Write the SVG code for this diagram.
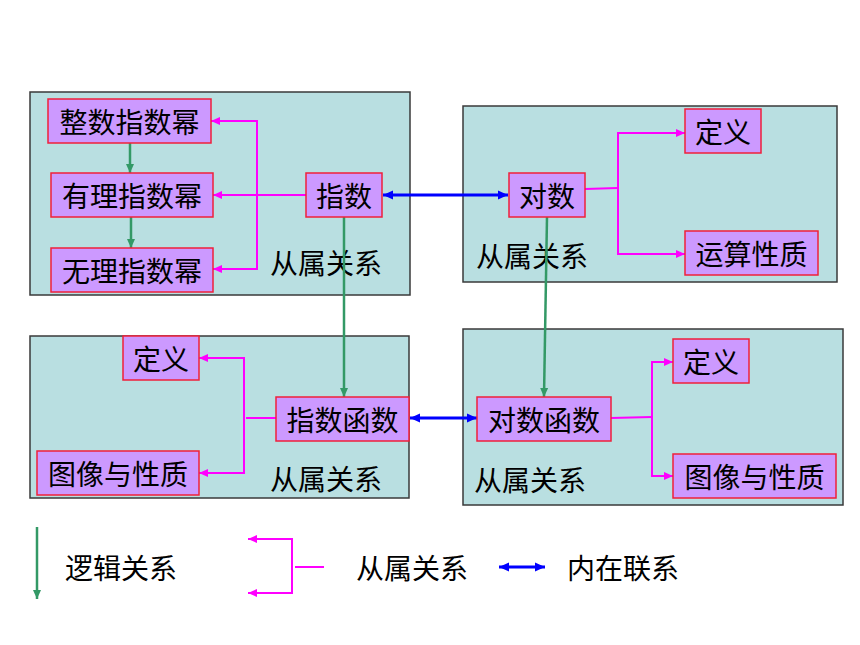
<svg xmlns="http://www.w3.org/2000/svg" width="860" height="645" viewBox="0 0 860 645">
<style>
.panel{fill:#B9DFE1;stroke:#3A3A3A;stroke-width:1.5}
.node{fill:#CC99FF;stroke:#F0203A;stroke-width:1.5}
text{font-family:"Noto Sans CJK SC","Noto Sans",sans-serif;font-size:28px;fill:#000;dominant-baseline:central}
.c{text-anchor:middle}
.pink{fill:none;stroke:#FF00FF;stroke-width:2}
.green{fill:none;stroke:#339966;stroke-width:2.5}
.blue{fill:none;stroke:#0000FF;stroke-width:3}
</style>
<defs>
<marker id="ap" markerUnits="userSpaceOnUse" markerWidth="10" markerHeight="10" refX="9" refY="5" orient="auto-start-reverse"><path d="M0,1 L9,5 L0,9 Z" fill="#FF00FF"/></marker>
<marker id="ag" markerUnits="userSpaceOnUse" markerWidth="10" markerHeight="10" refX="9" refY="5" orient="auto"><path d="M0,1 L9,5 L0,9 Z" fill="#339966"/></marker>
<marker id="ab" markerUnits="userSpaceOnUse" markerWidth="12" markerHeight="12" refX="10" refY="6" orient="auto-start-reverse"><path d="M0,1.5 L10,6 L0,10.5 Z" fill="#0000FF"/></marker>
</defs>
<g id="panels">
<rect class="panel" x="30" y="92" width="380" height="203"/>
<rect class="panel" x="463" y="106" width="374" height="176"/>
<rect class="panel" x="30" y="336" width="379" height="162"/>
<rect class="panel" x="463" y="329" width="380" height="176"/>
</g>
<g id="labels">
<text class="c" x="326" y="262">从属关系</text>
<text class="c" x="532" y="255">从属关系</text>
<text class="c" x="326" y="478">从属关系</text>
<text class="c" x="530" y="479">从属关系</text>
</g>
<g id="connectors">
<path class="pink" d="M306,195 H213" marker-end="url(#ap)"/>
<path class="pink" d="M211,121 H257 V269 H213" marker-start="url(#ap)" marker-end="url(#ap)"/>
<path class="pink" d="M585,189 L618,188"/>
<path class="pink" d="M685,133 H618 V254 H685" marker-start="url(#ap)" marker-end="url(#ap)"/>
<path class="pink" d="M276,418 L246,418"/>
<path class="pink" d="M199,358 H244 V473 H199" marker-start="url(#ap)" marker-end="url(#ap)"/>
<path class="pink" d="M611,418 L652,417"/>
<path class="pink" d="M673,362 H652 V476 H673" marker-start="url(#ap)" marker-end="url(#ap)"/>
<path class="green" d="M130,143 V173" marker-end="url(#ag)"/>
<path class="green" d="M131,217 V248" marker-end="url(#ag)"/>
<path class="green" d="M344,217 V397" marker-end="url(#ag)"/>
<path class="green" d="M547,217 L544,397" marker-end="url(#ag)"/>
<path class="blue" d="M383,195 H508" marker-start="url(#ab)" marker-end="url(#ab)"/>
<path class="blue" d="M410,418 H477" marker-start="url(#ab)" marker-end="url(#ab)"/>
</g>
<g id="n-zhengshu"><rect class="node" x="48" y="99" width="163" height="44"/><text class="c" x="129.5" y="121">整数指数幂</text></g>
<g id="n-youli"><rect class="node" x="51" y="173" width="162" height="44"/><text class="c" x="132" y="195">有理指数幂</text></g>
<g id="n-wuli"><rect class="node" x="51" y="248" width="162" height="44"/><text class="c" x="132" y="270">无理指数幂</text></g>
<g id="n-zhishu"><rect class="node" x="306" y="173" width="76" height="44"/><text class="c" x="344" y="195">指数</text></g>
<g id="n-duishu"><rect class="node" x="509" y="173" width="76" height="44"/><text class="c" x="547" y="195">对数</text></g>
<g id="n-dingyi1"><rect class="node" x="685" y="109" width="76" height="44"/><text class="c" x="723" y="131">定义</text></g>
<g id="n-yunsuan"><rect class="node" x="685" y="231" width="133" height="44"/><text class="c" x="751.5" y="253">运算性质</text></g>
<g id="n-dingyi2"><rect class="node" x="123" y="336" width="76" height="44"/><text class="c" x="161" y="358">定义</text></g>
<g id="n-zhishuhanshu"><rect class="node" x="276" y="397" width="133" height="44"/><text class="c" x="342.5" y="419">指数函数</text></g>
<g id="n-tuxiang1"><rect class="node" x="37" y="451" width="162" height="44"/><text class="c" x="118" y="473">图像与性质</text></g>
<g id="n-duishuhanshu"><rect class="node" x="477" y="397" width="134" height="44"/><text class="c" x="544" y="419">对数函数</text></g>
<g id="n-dingyi3"><rect class="node" x="673" y="339" width="76" height="44"/><text class="c" x="711" y="361">定义</text></g>
<g id="n-tuxiang2"><rect class="node" x="673" y="454" width="163" height="44"/><text class="c" x="754.5" y="476">图像与性质</text></g>
<g id="legend">
<path class="green" d="M37,527 V599" stroke-width="2" marker-end="url(#ag)"/>
<text x="65" y="567">逻辑关系</text>
<path class="pink" d="M248,539 H292 V593 H248" marker-start="url(#ap)" marker-end="url(#ap)"/>
<path class="pink" d="M295,567 L324,567"/>
<text x="356" y="567">从属关系</text>
<path class="blue" d="M499,567 H545" stroke-width="2.5" marker-start="url(#ab)" marker-end="url(#ab)"/>
<text x="567" y="567">内在联系</text>
</g>
</svg>
